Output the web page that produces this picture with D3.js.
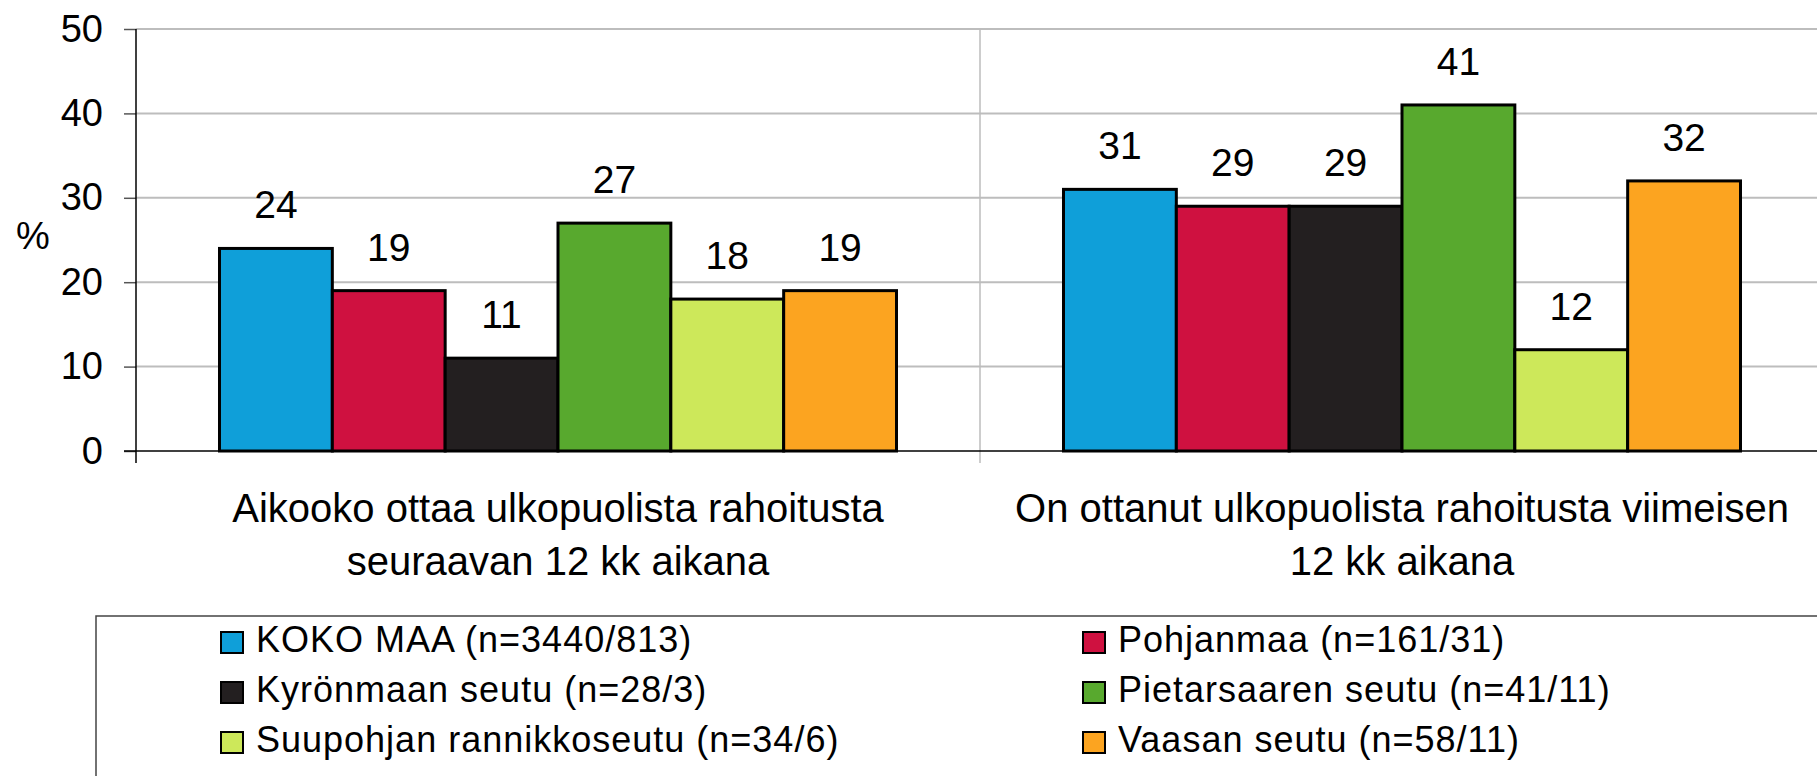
<!DOCTYPE html>
<html>
<head>
<meta charset="utf-8">
<script src="https://cdn.jsdelivr.net/npm/d3@7"></script>
<style>
  body { margin: 0; background: white; }
  svg { display: block; }
</style>
</head>
<body>
<div id="chart"></div>
<script>
// data
const categories = [
  ["Aikooko ottaa ulkopuolista rahoitusta", "seuraavan 12 kk aikana"],
  ["On ottanut ulkopuolista rahoitusta viimeisen", "12 kk aikana"]
];
const seriesNames = [
  "KOKO MAA (n=3440/813)",
  "Pohjanmaa (n=161/31)",
  "Kyrönmaan seutu (n=28/3)",
  "Pietarsaaren seutu (n=41/11)",
  "Suupohjan rannikkoseutu (n=34/6)",
  "Vaasan seutu (n=58/11)"
];
const seriesColors = ["#0f9fd9", "#cf1140", "#231f20", "#58a92e", "#cde85a", "#fca420"];
const plansValues = [24, 19, 11, 27, 18, 19];
const takenValues = [31, 29, 29, 41, 12, 32];
const yTicks = [0, 10, 20, 30, 40, 50];

const values = [plansValues, takenValues];

const totalWidth = 1817, h = 776;
const fontFamily = "'Liberation Sans', Arial, sans-serif";

const svg = d3.select("#chart")
  .append("svg")
  .attr("width", totalWidth)
  .attr("height", h);

// scales
const x0 = d3.scaleBand()
  .domain(d3.range(categories.length))
  .range([136, 136 + 844 * 2])
  .padding(0);

const x1 = d3.scaleBand()
  .domain(d3.range(seriesNames.length))
  .range([0, x0.bandwidth()])
  .paddingInner(0)
  .paddingOuter(0.74);

const y = d3.scaleLinear()
  .domain([0, 50])
  .range([451, 29]);

// horizontal gridlines
svg.append("g")
  .selectAll("line")
  .data(yTicks.filter(d => d > 0))
  .join("line")
    .attr("x1", 136)
    .attr("x2", totalWidth)
    .attr("y1", d => y(d))
    .attr("y2", d => y(d))
    .attr("stroke", "#bdbdbd")
    .attr("stroke-width", 2);

// vertical separators between categories (plus tick below axis)
svg.append("g")
  .selectAll("line")
  .data(d3.range(1, categories.length))
  .join("line")
    .attr("x1", d => x0(d))
    .attr("x2", d => x0(d))
    .attr("y1", y(50))
    .attr("y2", y(0) + 12)
    .attr("stroke", "#bdbdbd")
    .attr("stroke-width", 1.5);

// y axis
svg.append("g")
  .attr("transform", "translate(136,0)")
  .call(d3.axisLeft(y).tickValues(yTicks).tickSize(12).tickPadding(21).tickSizeOuter(0))
  .call(g => g.select(".domain").remove())
  .call(g => g.selectAll(".tick line").attr("stroke", "#555").attr("stroke-width", 1.5))
  .call(g => g.selectAll(".tick text")
    .attr("font-family", fontFamily)
    .attr("font-size", 38)
    .attr("fill", "#000"));

svg.append("line")
  .attr("x1", 136).attr("x2", 136)
  .attr("y1", y(50)).attr("y2", y(0) + 12)
  .attr("stroke", "#000").attr("stroke-width", 1.5);

// bars
const groups = svg.append("g")
  .selectAll("g")
  .data(values)
  .join("g")
    .attr("transform", (d, i) => `translate(${x0(i)},0)`);

groups.selectAll("rect")
  .data(d => d)
  .join("rect")
    .attr("x", (d, i) => x1(i))
    .attr("y", d => y(d))
    .attr("width", x1.bandwidth())
    .attr("height", d => y(0) - y(d))
    .attr("fill", (d, i) => seriesColors[i])
    .attr("stroke", "#000")
    .attr("stroke-width", 3);

// value labels
groups.selectAll("text")
  .data(d => d)
  .join("text")
    .attr("x", (d, i) => x1(i) + x1.bandwidth() / 2)
    .attr("y", d => y(d) - 30)
    .attr("text-anchor", "middle")
    .style("font-family", fontFamily)
    .style("font-size", "39px")
    .style("fill", "#000")
    .text(d => d);

// x axis line
svg.append("line")
  .attr("x1", 124).attr("x2", totalWidth)
  .attr("y1", y(0)).attr("y2", y(0))
  .attr("stroke", "#000").attr("stroke-width", 1.5);

// category labels (two lines)
svg.append("g")
  .selectAll("text")
  .data(categories)
  .join("text")
    .attr("x", (d, i) => x0(i) + x0.bandwidth() / 2)
    .attr("y", 522)
    .attr("text-anchor", "middle")
    .style("font-family", fontFamily)
    .style("font-size", "40px")
    .style("fill", "#000")
    .selectAll("tspan")
    .data(d => d)
    .join("tspan")
      .attr("x", function() { return this.parentNode.getAttribute("x"); })
      .attr("dy", (d, i) => i === 0 ? 0 : 53)
      .text(d => d);

// y axis title
svg.append("text")
  .attr("x", 33)
  .attr("y", 249)
  .attr("text-anchor", "middle")
  .style("font-family", fontFamily)
  .style("font-size", "38px")
  .style("fill", "#000")
  .text("%");

// legend box
svg.append("rect")
  .attr("x", 96)
  .attr("y", 616)
  .attr("width", totalWidth)
  .attr("height", 300)
  .attr("fill", "none")
  .attr("stroke", "#444")
  .attr("stroke-width", 1.5);

const legendCols = [221, 1083];
const legendItems = svg.append("g")
  .selectAll("g")
  .data(seriesNames)
  .join("g")
    .attr("transform", (d, i) => `translate(${legendCols[i % 2]},${632 + Math.floor(i / 2) * 50})`);

legendItems.append("rect")
  .attr("width", 22)
  .attr("height", 21)
  .attr("fill", (d, i) => seriesColors[i])
  .attr("stroke", "#000")
  .attr("stroke-width", 2);

legendItems.append("text")
  .attr("x", 35)
  .attr("y", 20)
  .style("font-family", fontFamily)
  .style("font-size", "36px")
  .style("letter-spacing", "1px")
  .style("fill", "#000")
  .text(d => d);
</script>
</body>
</html>
